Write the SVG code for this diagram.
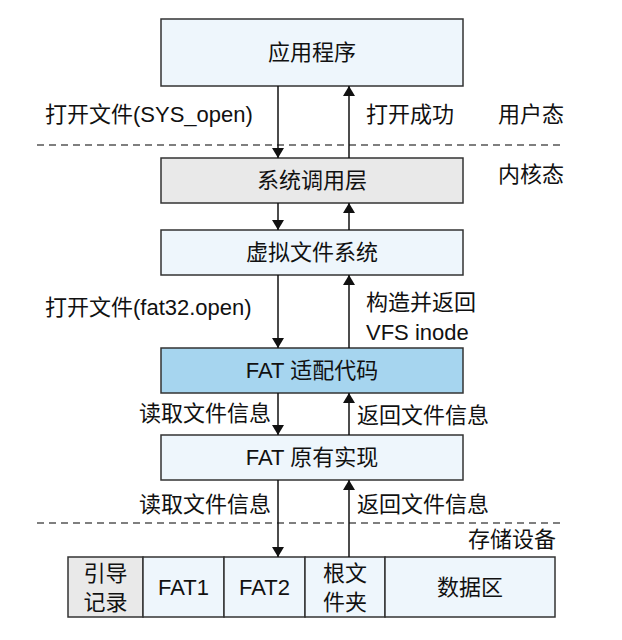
<svg xmlns="http://www.w3.org/2000/svg" width="622" height="640" viewBox="0 0 622 640">
<style>
text{font-family:"Liberation Sans","Noto Sans CJK SC",sans-serif;font-size:22px;fill:#111}
.c{text-anchor:middle}
.box{stroke:#333;stroke-width:1.5}
.lb{fill:#eef6fc}
.gr{fill:#e9e9e9}
.bl{fill:#a6d5ef}
.dash{stroke:#555;stroke-width:1.5;stroke-dasharray:7,5;fill:none}
.ar{stroke:#111;stroke-width:1.5;fill:none}
</style>
<defs>
<marker id="ah" viewBox="0 0 10 12" refX="10" refY="6" markerWidth="10" markerHeight="12" markerUnits="userSpaceOnUse" orient="auto">
<path d="M0,0 L10,6 L0,12 Z" fill="#111"/>
</marker>
</defs>
<rect width="622" height="640" fill="#fff"/>
<g id="dividers">
<line class="dash" x1="37" y1="145" x2="560" y2="145"/>
<line class="dash" x1="37" y1="523" x2="560" y2="523"/>
<text x="564" y="122" text-anchor="end">用户态</text>
<text x="564" y="182" text-anchor="end">内核态</text>
<text x="556" y="547" text-anchor="end">存储设备</text>
</g>
<g id="n1"><rect class="box lb" x="161" y="19" width="302" height="67"/><text class="c" x="312" y="60">应用程序</text></g>
<g id="n2"><rect class="box gr" x="161" y="158" width="302" height="45"/><text class="c" x="312" y="188">系统调用层</text></g>
<g id="n3"><rect class="box lb" x="161" y="230" width="302" height="45"/><text class="c" x="312" y="260">虚拟文件系统</text></g>
<g id="n4"><rect class="box bl" x="161" y="348" width="302" height="45"/><text class="c" x="312" y="378">FAT 适配代码</text></g>
<g id="n5"><rect class="box lb" x="161" y="435" width="302" height="45"/><text class="c" x="312" y="465">FAT 原有实现</text></g>
<g id="storage">
<rect class="box gr" x="68" y="557" width="75" height="60"/>
<rect class="box lb" x="143" y="557" width="81" height="60"/>
<rect class="box lb" x="224" y="557" width="81" height="60"/>
<rect class="box lb" x="305" y="557" width="80" height="60"/>
<rect class="box lb" x="385" y="557" width="170" height="60"/>
<text class="c" x="105.5" y="581">引导</text>
<text class="c" x="105.5" y="610">记录</text>
<text class="c" x="183.5" y="595">FAT1</text>
<text class="c" x="264.5" y="595">FAT2</text>
<text class="c" x="345" y="581">根文</text>
<text class="c" x="345" y="610">件夹</text>
<text class="c" x="470" y="595">数据区</text>
</g>
<g id="connectors">
<line class="ar" x1="278" y1="86" x2="278" y2="158" marker-end="url(#ah)"/>
<line class="ar" x1="349" y1="158" x2="349" y2="86" marker-end="url(#ah)"/>
<line class="ar" x1="278" y1="203" x2="278" y2="230" marker-end="url(#ah)"/>
<line class="ar" x1="349" y1="230" x2="349" y2="203" marker-end="url(#ah)"/>
<line class="ar" x1="278" y1="275" x2="278" y2="348" marker-end="url(#ah)"/>
<line class="ar" x1="349" y1="348" x2="349" y2="275" marker-end="url(#ah)"/>
<line class="ar" x1="278" y1="393" x2="278" y2="435" marker-end="url(#ah)"/>
<line class="ar" x1="349" y1="435" x2="349" y2="393" marker-end="url(#ah)"/>
<line class="ar" x1="278" y1="480" x2="278" y2="557" marker-end="url(#ah)"/>
<line class="ar" x1="349" y1="557" x2="349" y2="480" marker-end="url(#ah)"/>
<text x="45" y="122">打开文件(SYS_open)</text>
<text x="366" y="122">打开成功</text>
<text x="45" y="315">打开文件(fat32.open)</text>
<text x="366" y="310">构造并返回</text>
<text x="366" y="340">VFS inode</text>
<text x="271" y="421" text-anchor="end">读取文件信息</text>
<text x="357" y="423">返回文件信息</text>
<text x="271" y="512" text-anchor="end">读取文件信息</text>
<text x="357" y="512">返回文件信息</text>
</g>
</svg>
